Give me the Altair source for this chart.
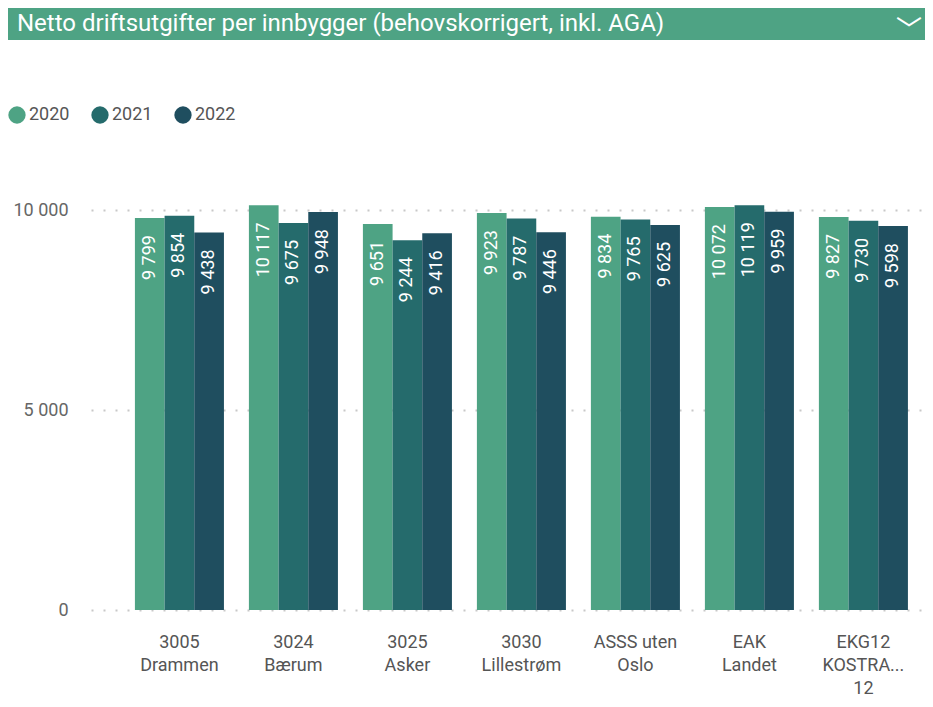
import altair as alt
import pandas as pd

title_text = "Netto driftsutgifter per innbygger (behovskorrigert, inkl. AGA)"
categories = ["3005|Drammen", "3024|Bærum", "3025|Asker", "3030|Lillestrøm",
              "ASSS uten|Oslo", "EAK|Landet", "EKG12|KOSTRA...|12"]
years = ["2020", "2021", "2022"]
v2020 = [9799, 10117, 9651, 9923, 9834, 10072, 9827]
v2021 = [9854, 9675, 9244, 9787, 9765, 10119, 9730]
v2022 = [9438, 9948, 9416, 9446, 9625, 9959, 9598]
colors = ["#4EA384", "#256B6C", "#1F4E5F"]
y_ticks = [0, 5000, 10000]

rows = []
for i, c in enumerate(categories):
    for yr, vals in zip(years, [v2020, v2021, v2022]):
        rows.append({"kategori": c, "aar": yr, "verdi": vals[i]})
df = pd.DataFrame(rows)

FONT = "Roboto"

x_enc = alt.X(
    "kategori:N", sort=categories,
    scale=alt.Scale(paddingInner=0.219, paddingOuter=0.2675, align=0.72),
    axis=alt.Axis(title=None, labelAngle=0, labelExpr="split(datum.label, '|')",
                  labelFontSize=18, labelColor="#555555", labelPadding=23,
                  labelLineHeight=23, domain=False, ticks=False, labelFont=FONT),
)
y_enc = alt.Y(
    "verdi:Q",
    scale=alt.Scale(domain=[0, 11000], nice=False),
    axis=alt.Axis(values=y_ticks, title=None,
                  labelExpr="replace(format(datum.value, ','), ',', ' ')",
                  labelFontSize=18, labelColor="#666666", labelPadding=23,
                  labelFont=FONT, domain=False, ticks=False,
                  gridDash=[2, 10], gridColor="#c8c8c8", gridWidth=2),
)
xoff = alt.XOffset("aar:N", sort=years, scale=alt.Scale(paddingInner=0, paddingOuter=0))

bars = alt.Chart(df).mark_bar().encode(
    x=x_enc, y=y_enc, xOffset=xoff,
    color=alt.Color("aar:N", scale=alt.Scale(domain=years, range=colors),
                    legend=alt.Legend(title=None, orient="none", legendX=-83, legendY=-64,
                                      direction="horizontal", symbolType="circle",
                                      symbolSize=300, labelFontSize=18, labelColor="#555555",
                                      labelFont=FONT, labelOffset=3, columnPadding=21,
                                      padding=0, symbolStrokeWidth=0, symbolOpacity=1)),
)

labels = alt.Chart(df).transform_calculate(
    lbl="replace(format(datum.verdi, ','), ',', ' ')"
).mark_text(angle=270, align="right", baseline="middle", dx=-17, color="white",
            fontSize=18, font=FONT).encode(
    x=alt.X("kategori:N", sort=categories), y="verdi:Q", xOffset=alt.XOffset("aar:N", sort=years),
    text="lbl:N",
)

hdr = pd.DataFrame({"t": [title_text]})
header_rect = alt.Chart(hdr).mark_rect(color="#4EA384").encode(
    x=alt.value(-83), x2=alt.value(842), y=alt.value(-162), y2=alt.value(-130)
)
header_text = alt.Chart(hdr).mark_text(align="left", baseline="middle", color="white",
                                       fontSize=24, font=FONT).encode(
    x=alt.value(-74), y=alt.value(-146), text="t:N"
)
chev = alt.Chart(hdr).mark_text(text="﹀", align="center", baseline="middle", color="white",
                                fontSize=26, font="Noto Sans CJK SC").encode(
    x=alt.value(818), y=alt.value(-139)
)

chart = alt.layer(header_rect, header_text, chev, bars, labels).properties(
    width=834, height=440,
    autosize=alt.AutoSizeParams(type="none"),
    padding={"left": 83, "top": 162, "right": 0, "bottom": 89},
).configure_view(stroke=None)

chart.save("out.html", embed_options={"renderer": "svg", "actions": False})
